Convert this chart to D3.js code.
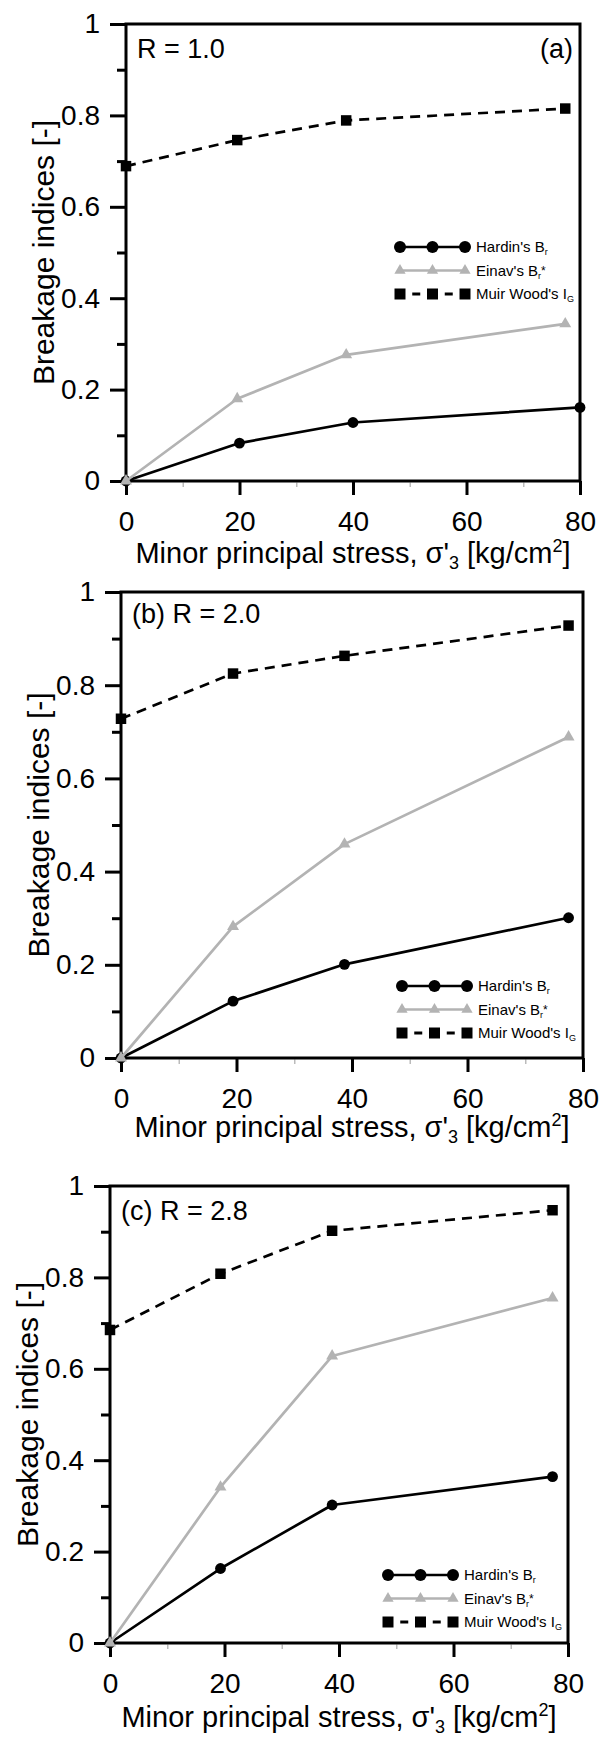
<!DOCTYPE html>
<html>
<head>
<meta charset="utf-8">
<script src="https://cdn.jsdelivr.net/npm/d3@7"></script>
<style>
  html, body { margin: 0; padding: 0; background: #fff; }
  svg { display: block; }
</style>
</head>
<body>
<svg id="fig" width="603" height="1738"></svg>
<script>
// ---- axis ticks ----
const xTickValues = [0, 20, 40, 60, 80];
const xMinorTicks = [10, 30, 50, 70];
const yTickValues = [0, 0.2, 0.4, 0.6, 0.8, 1];
const yTickLabels = ["0", "0.2", "0.4", "0.6", "0.8", "1"];
const yMinorTicks = [0.1, 0.3, 0.5, 0.7, 0.9];

// ---- (a) R = 1.0 ----
const stressA = [0, 19.6, 38.8, 77.4];
const stressHardinA = [0, 20, 40, 80];
const hardinA = [0, 0.083, 0.128, 0.161];
const einavA = [0, 0.180, 0.276, 0.344];
const muirWoodA = [0.689, 0.746, 0.789, 0.815];

// ---- (b) R = 2.0 ----
const stressB = [0, 19.4, 38.7, 77.5];
const hardinB = [0, 0.122, 0.201, 0.301];
const einavB = [0, 0.282, 0.459, 0.689];
const muirWoodB = [0.728, 0.825, 0.863, 0.928];

// ---- (c) R = 2.8 ----
const stressC = [0, 19.3, 38.8, 77.3];
const hardinC = [0, 0.163, 0.302, 0.364];
const einavC = [0, 0.341, 0.628, 0.755];
const muirWoodC = [0.685, 0.808, 0.902, 0.947];

const FONT = "'Liberation Sans', Arial, Helvetica, sans-serif";
const GREY = "#b3b3b3";

// panel layout (pixels)
const layouts = [
  { left: 126, right: 580, top: 24,   bottom: 481,  tagLeft: "R = 1.0",     tagRight: "(a)", tagY: 34, legX: 274, legY: 223, titleGap: 82 },
  { left: 121, right: 583, top: 592,  bottom: 1058, tagLeft: "(b) R = 2.0", tagRight: null,  tagY: 31, legX: 281, legY: 394, titleGap: 79 },
  { left: 110, right: 568, top: 1186, bottom: 1643, tagLeft: "(c) R = 2.8", tagRight: null,  tagY: 34, legX: 278, legY: 389, titleGap: 84 }
];

const panelData = [
  { hardinX: stressHardinA, hardin: hardinA, einavX: stressA, einav: einavA, muirX: stressA, muir: muirWoodA },
  { hardinX: stressB, hardin: hardinB, einavX: stressB, einav: einavB, muirX: stressB, muir: muirWoodB },
  { hardinX: stressC, hardin: hardinC, einavX: stressC, einav: einavC, muirX: stressC, muir: muirWoodC }
];

const svg = d3.select("#fig");
svg.append("rect").attr("width", 603).attr("height", 1738).attr("fill", "#fff");

const triangle = d3.symbol().type(d3.symbolTriangle);
const square = d3.symbol().type(d3.symbolSquare);

function styleAxis(sel, fontSize) {
  sel.attr("font-family", FONT).attr("font-size", fontSize);
  sel.select(".domain").remove();
  sel.selectAll("text").attr("fill", "#000");
}

function drawPanel(L, D) {
  const g = svg.append("g");
  const x = d3.scaleLinear().domain([0, 80]).range([L.left, L.right]);
  const y = d3.scaleLinear().domain([0, 1]).range([L.bottom, L.top]);

  // minor x ticks (faint)
  const xMinor = g.append("g").attr("transform", `translate(0,${L.bottom})`)
    .call(d3.axisBottom(x).tickValues(xMinorTicks).tickSize(5).tickFormat(""));
  styleAxis(xMinor, 10);
  xMinor.selectAll("line").attr("stroke", "#bbb").attr("stroke-width", 1.5)
    .attr("y1", 1.5).attr("y2", 6);

  // major x ticks
  const xAxis = g.append("g").attr("transform", `translate(0,${L.bottom})`)
    .call(d3.axisBottom(x).tickValues(xTickValues).tickSize(14).tickPadding(16).tickFormat(d3.format("d")));
  styleAxis(xAxis, 28);
  xAxis.selectAll("line").attr("stroke", "#000").attr("stroke-width", 3);

  // minor y ticks
  const yMinor = g.append("g").attr("transform", `translate(${L.left},0)`)
    .call(d3.axisLeft(y).tickValues(yMinorTicks).tickSize(9).tickFormat(""));
  styleAxis(yMinor, 10);
  yMinor.selectAll("line").attr("stroke", "#000").attr("stroke-width", 3);

  // major y ticks
  const yAxis = g.append("g").attr("transform", `translate(${L.left},0)`)
    .call(d3.axisLeft(y).tickValues(yTickValues).tickSize(16).tickPadding(10)
      .tickFormat((d, i) => yTickLabels[i]));
  styleAxis(yAxis, 28);
  yAxis.selectAll("line").attr("stroke", "#000").attr("stroke-width", 3);

  // frame
  g.append("rect")
    .attr("x", L.left).attr("y", L.top)
    .attr("width", L.right - L.left).attr("height", L.bottom - L.top)
    .attr("fill", "none").attr("stroke", "#000").attr("stroke-width", 3);

  // axis titles
  const xt = g.append("text")
    .attr("x", (L.left + L.right) / 2).attr("y", L.bottom + L.titleGap)
    .attr("text-anchor", "middle").attr("font-family", FONT).attr("font-size", 29).attr("fill", "#000");
  xt.append("tspan").text("Minor principal stress, σ'");
  xt.append("tspan").attr("font-size", 18).attr("dy", 6).text("3");
  xt.append("tspan").attr("dy", -6).text(" [kg/cm");
  xt.append("tspan").attr("font-size", 18).attr("dy", -11).text("2");
  xt.append("tspan").attr("dy", 11).text("]");

  g.append("text")
    .attr("transform", `translate(${L.left - 72},${(L.top + L.bottom) / 2}) rotate(-90)`)
    .attr("text-anchor", "middle").attr("font-family", FONT).attr("font-size", 30).attr("fill", "#000")
    .text("Breakage indices [-]");

  // panel tags
  g.append("text").attr("x", L.left + 11).attr("y", L.top + L.tagY)
    .attr("font-family", FONT).attr("font-size", 27).attr("fill", "#000").text(L.tagLeft);
  if (L.tagRight) {
    g.append("text").attr("x", L.right - 7).attr("y", L.top + L.tagY)
      .attr("text-anchor", "end").attr("font-family", FONT).attr("font-size", 27).attr("fill", "#000")
      .text(L.tagRight);
  }

  const line = d3.line().x(d => x(d[0])).y(d => y(d[1]));
  const hardinPts = D.hardinX.map((v, i) => [v, D.hardin[i]]);
  const einavPts = D.einavX.map((v, i) => [v, D.einav[i]]);
  const muirPts = D.muirX.map((v, i) => [v, D.muir[i]]);

  // Hardin's Br
  g.append("path").attr("d", line(hardinPts)).attr("fill", "none")
    .attr("stroke", "#000").attr("stroke-width", 2.7).attr("stroke-linejoin", "round");
  g.selectAll(null).data(hardinPts).join("circle")
    .attr("cx", d => x(d[0])).attr("cy", d => y(d[1])).attr("r", 5.4).attr("fill", "#000");

  // Einav's Br*
  g.append("path").attr("d", line(einavPts)).attr("fill", "none")
    .attr("stroke", GREY).attr("stroke-width", 2.7).attr("stroke-linejoin", "round");
  g.selectAll(null).data(einavPts).join("path")
    .attr("d", triangle.size(62)).attr("transform", d => `translate(${x(d[0])},${y(d[1])})`)
    .attr("fill", GREY);

  // Muir Wood's IG
  g.append("path").attr("d", line(muirPts)).attr("fill", "none")
    .attr("stroke", "#000").attr("stroke-width", 2.7).attr("stroke-dasharray", "10,7");
  g.selectAll(null).data(muirPts).join("path")
    .attr("d", square.size(110)).attr("transform", d => `translate(${x(d[0])},${y(d[1])})`)
    .attr("fill", "#000");

  // legend
  const mx = [0, 1, 2].map(i => L.left + L.legX + i * 32.5);
  const rowY = [0, 1, 2].map(i => L.top + L.legY + i * 23.5);
  const lg = g.append("g");

  lg.append("line").attr("x1", mx[0]).attr("x2", mx[2]).attr("y1", rowY[0]).attr("y2", rowY[0])
    .attr("stroke", "#000").attr("stroke-width", 2.6);
  lg.selectAll(null).data(mx).join("circle")
    .attr("cx", d => d).attr("cy", rowY[0]).attr("r", 6).attr("fill", "#000");

  lg.append("line").attr("x1", mx[0]).attr("x2", mx[2]).attr("y1", rowY[1]).attr("y2", rowY[1])
    .attr("stroke", GREY).attr("stroke-width", 2.6);
  lg.selectAll(null).data(mx).join("path")
    .attr("d", triangle.size(55)).attr("transform", d => `translate(${d},${rowY[1]})`).attr("fill", GREY);

  [0, 1].forEach(i => {
    const c = (mx[i] + mx[i + 1]) / 2;
    lg.append("line").attr("x1", c - 4).attr("x2", c + 4).attr("y1", rowY[2]).attr("y2", rowY[2])
      .attr("stroke", "#000").attr("stroke-width", 3);
  });
  lg.selectAll(null).data(mx).join("path")
    .attr("d", square.size(121)).attr("transform", d => `translate(${d},${rowY[2]})`).attr("fill", "#000");

  const tx = mx[2] + 11;
  const t0 = lg.append("text").attr("x", tx).attr("y", rowY[0] + 5)
    .attr("font-family", FONT).attr("font-size", 15).attr("fill", "#000");
  t0.append("tspan").text("Hardin's B");
  t0.append("tspan").attr("font-size", 9).attr("dy", 3).text("r");

  const t1 = lg.append("text").attr("x", tx).attr("y", rowY[1] + 5)
    .attr("font-family", FONT).attr("font-size", 15).attr("fill", "#000");
  t1.append("tspan").text("Einav's B");
  t1.append("tspan").attr("font-size", 9).attr("dy", 3).text("r");
  t1.append("tspan").attr("font-size", 12).attr("dy", -4).text("*");

  const t2 = lg.append("text").attr("x", tx).attr("y", rowY[2] + 5)
    .attr("font-family", FONT).attr("font-size", 15).attr("fill", "#000");
  t2.append("tspan").text("Muir Wood's I");
  t2.append("tspan").attr("font-size", 9).attr("dy", 3).text("G");
}

layouts.forEach((L, i) => drawPanel(L, panelData[i]));
</script>
</body>
</html>
